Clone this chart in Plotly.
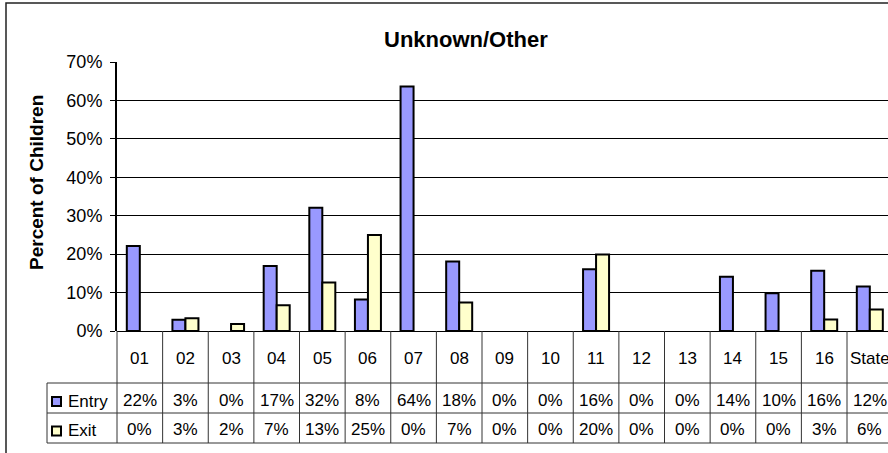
import plotly.graph_objects as go

categories = ["01", "02", "03", "04", "05", "06", "07", "08", "09", "10",
              "11", "12", "13", "14", "15", "16", "State"]
entry = [0.221, 0.029, 0.0, 0.169, 0.321, 0.082, 0.636, 0.181, 0.0, 0.0,
         0.161, 0.0, 0.0, 0.141, 0.098, 0.157, 0.116]
exit_ = [0.0, 0.033, 0.018, 0.067, 0.126, 0.250, 0.0, 0.074, 0.0, 0.0,
         0.199, 0.0, 0.0, 0.0, 0.0, 0.030, 0.056]
series_names = ["Entry", "Exit"]
y_ticks = [0.0, 0.1, 0.2, 0.3, 0.4, 0.5, 0.6, 0.7]
title_text = "Unknown/Other"
y_title = "Percent of Children"

W, H = 888, 453
L, T, B = 117, 62, 331          # plot area pixel edges
COLW = 45.625                   # category width in px
FONT = "Liberation Sans, Arial, sans-serif"
ENTRY_C = "#9999FF"
EXIT_C = "#FFFFCC"
LINE_C = "#333333"

plot_w = W - L
plot_h = B - T

def px(xp):
    return (xp - L) / plot_w

def py(yp):
    return (B - yp) / plot_h

xr_end = -0.5 + plot_w / COLW
idx = list(range(len(categories)))

def nz(vals):
    return [v if v > 0 else None for v in vals]

fig = go.Figure()
fig.add_trace(go.Bar(x=idx, y=nz(entry), name=series_names[0],
                     marker=dict(color=ENTRY_C, line=dict(color="black", width=2))))
fig.add_trace(go.Bar(x=idx, y=nz(exit_), name=series_names[1],
                     marker=dict(color=EXIT_C, line=dict(color="black", width=2))))

shapes = []
# outer chart border
shapes.append(dict(type="rect", xref="paper", yref="paper",
                   x0=px(6), x1=px(W + 40), y0=py(3), y1=py(H + 40),
                   line=dict(color="#222222", width=1.5), fillcolor="rgba(0,0,0,0)"))
# table horizontal lines
for yy in (383, 413, 443):
    shapes.append(dict(type="line", xref="paper", yref="paper",
                       x0=px(47), x1=px(W + 20), y0=py(yy), y1=py(yy),
                       line=dict(color=LINE_C, width=1)))
# legend column left border
shapes.append(dict(type="line", xref="paper", yref="paper",
                   x0=px(47), x1=px(47), y0=py(383), y1=py(443),
                   line=dict(color=LINE_C, width=1)))
# left border of table (continuation of axis)
shapes.append(dict(type="line", xref="paper", yref="paper",
                   x0=px(L), x1=px(L), y0=py(B), y1=py(443),
                   line=dict(color=LINE_C, width=1)))
# category dividers
for i in idx:
    shapes.append(dict(type="line", xref="x", yref="paper",
                       x0=i + 0.5, x1=i + 0.5, y0=py(B), y1=py(443),
                       line=dict(color=LINE_C, width=1)))
# legend keys
for yc, col in ((401.5, ENTRY_C), (431, EXIT_C)):
    shapes.append(dict(type="rect", xref="paper", yref="paper",
                       x0=px(52), x1=px(61), y0=py(yc - 4.5), y1=py(yc + 4.5),
                       fillcolor=col, line=dict(color="black", width=2)))

ann = []
for i, c in enumerate(categories):
    ann.append(dict(x=i, y=py(358), xref="x", yref="paper", text=c, showarrow=False,
                    font=dict(family=FONT, size=17, color="black"),
                    xanchor="center", yanchor="middle"))
    ann.append(dict(x=i, y=py(400), xref="x", yref="paper",
                    text=f"{entry[i]*100:.0f}%", showarrow=False,
                    font=dict(family=FONT, size=17, color="black"),
                    xanchor="center", yanchor="middle"))
    ann.append(dict(x=i, y=py(429), xref="x", yref="paper",
                    text=f"{exit_[i]*100:.0f}%", showarrow=False,
                    font=dict(family=FONT, size=17, color="black"),
                    xanchor="center", yanchor="middle"))
for name, yc in ((series_names[0], 401), (series_names[1], 430.5)):
    ann.append(dict(x=px(66), y=py(yc), xref="paper", yref="paper", text=name,
                    showarrow=False, font=dict(family=FONT, size=17, color="black"),
                    xanchor="left", yanchor="middle"))
# title
ann.append(dict(x=px(466), y=py(40), xref="paper", yref="paper",
                text=f"<b>{title_text}</b>", showarrow=False,
                font=dict(family=FONT, size=22, color="black"),
                xanchor="center", yanchor="middle"))
# y axis title
ann.append(dict(x=px(36), y=py(183), xref="paper", yref="paper",
                text=f"<b>{y_title}</b>", showarrow=False, textangle=-90,
                font=dict(family=FONT, size=19, color="black"),
                xanchor="center", yanchor="middle"))

fig.update_layout(
    width=W, height=H,
    margin=dict(l=L, r=0, t=T, b=H - B, pad=0),
    paper_bgcolor="white", plot_bgcolor="white",
    barmode="group", bargap=0.43, bargroupgap=0,
    showlegend=False,
    shapes=shapes, annotations=ann,
    xaxis=dict(range=[-0.5, xr_end], showticklabels=False, ticks="",
               showgrid=False, zeroline=False, showline=False, fixedrange=True),
    yaxis=dict(range=[0, 0.7], tickvals=y_ticks, tickformat=".0%",
               tickfont=dict(family=FONT, size=18, color="black"),
               ticks="outside", ticklen=5, tickcolor="black", tickwidth=1,
               ticklabelstandoff=4,
               showgrid=True, gridcolor="black", gridwidth=1,
               zeroline=True, zerolinecolor="black", zerolinewidth=1,
               showline=True, linecolor="black", linewidth=2, fixedrange=True),
)

fig.write_html("out.html", config={"displayModeBar": False},
               post_script="document.body.style.margin='0';"
                           "document.body.style.overflow='hidden';")
